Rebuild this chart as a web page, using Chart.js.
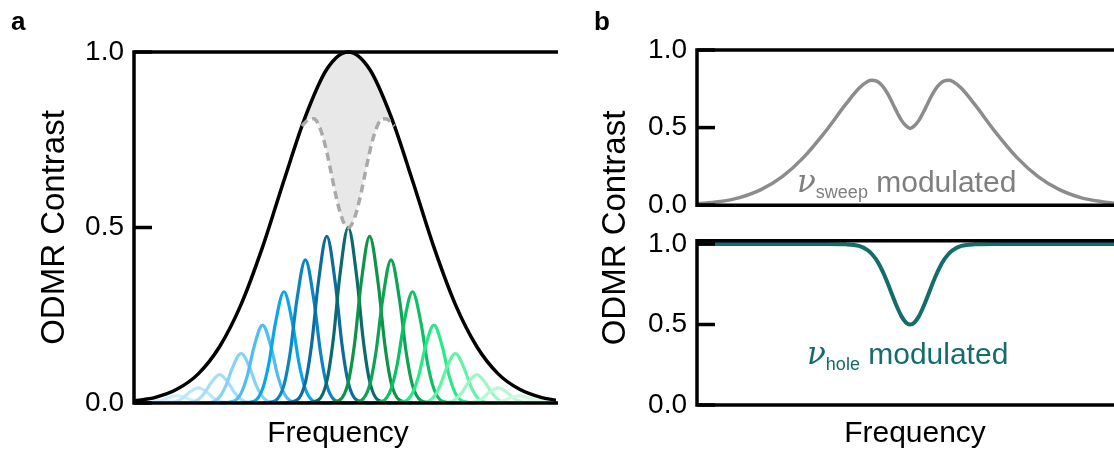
<!DOCTYPE html>
<html>
<head>
<meta charset="utf-8">
<title>ODMR contrast – spectral hole burning</title>
<script src="https://cdn.jsdelivr.net/npm/chart.js@4.4.1/dist/chart.umd.min.js"></script>
<style>
  body { margin: 0; background: #fff; }
  #page { position: relative; width: 1114px; height: 449px; overflow: hidden;
          font-family: "Liberation Sans", Arial, Helvetica, sans-serif; color: #000; }
  canvas { position: absolute; }
  #chartA { left: 0; top: 0; }
  #chartB1 { left: 580px; top: 0; }
  #chartB2 { left: 580px; top: 214px; }
  .panel-label { position: absolute; font-weight: bold; font-size: 26px; line-height: 26px; }
  .ytitle { position: absolute; font-size: 33px; line-height: 33px; white-space: nowrap;
            transform: translate(-50%, -50%) rotate(-90deg); }
  .xtitle { position: absolute; font-size: 30px; line-height: 30px; white-space: nowrap;
            transform: translateX(-50%); }
  .note { position: absolute; font-size: 30px; line-height: 30px; white-space: nowrap; }
  .note .nu { font-family: "DejaVu Serif", serif; font-style: italic; font-size: 31px; line-height: 0; }
  .note sub { font-size: 18px; vertical-align: -6px; line-height: 0; }
</style>
</head>
<body>
<div id="page">
  <canvas id="chartA" width="570" height="449"></canvas>
  <canvas id="chartB1" width="534" height="232"></canvas>
  <canvas id="chartB2" width="534" height="235"></canvas>

  <div class="panel-label" style="left:11px; top:8px;">a</div>
  <div class="panel-label" style="left:594px; top:8px;">b</div>
  <div class="ytitle" style="left:613px; top:228px;">ODMR Contrast</div>
  <div class="xtitle" style="left:338px; top:417px;">Frequency</div>
  <div class="xtitle" style="left:915px; top:417px;">Frequency</div>

  <div class="note" style="left:797px; top:167px; color:#7f7f7f;"><span class="nu">ν</span><sub>sweep</sub> modulated</div>
  <div class="note" style="left:807px; top:339px; color:#146c6c;"><span class="nu">ν</span><sub>hole</sub> modulated</div>
</div>

<script>
// ---- values ----
const yTicks = [0, 0.5, 1.0];

// panel a: inhomogeneous envelope
const freqA = [0, 0.05, 0.10, 0.15, 0.20, 0.25, 0.30, 0.35, 0.40, 0.45, 0.50,
               0.55, 0.60, 0.65, 0.70, 0.75, 0.80, 0.85, 0.90, 0.95, 0.985];
const envelopeA = [0.006, 0.016, 0.039, 0.083, 0.161, 0.281, 0.444, 0.634, 0.816, 0.951, 1.000,
                   0.951, 0.816, 0.634, 0.444, 0.281, 0.161, 0.083, 0.039, 0.016, 0.008];

// panel a: burnt hole (shaded between envelope and dashed line)
const holeFreqA = [0.392, 0.40, 0.41, 0.42, 0.43, 0.44, 0.45, 0.46, 0.47, 0.48, 0.49, 0.50,
                   0.51, 0.52, 0.53, 0.54, 0.55, 0.56, 0.57, 0.58, 0.59, 0.60, 0.608];
const holeTopA = [0.789, 0.816, 0.848, 0.878, 0.905, 0.930, 0.951, 0.968, 0.982, 0.992, 0.998, 1.000,
                  0.998, 0.992, 0.982, 0.968, 0.951, 0.930, 0.905, 0.878, 0.848, 0.816, 0.789];
const dashedA = [0.789, 0.800, 0.809, 0.810, 0.795, 0.762, 0.715, 0.657, 0.598, 0.548, 0.513, 0.500,
                 0.513, 0.548, 0.598, 0.657, 0.715, 0.762, 0.795, 0.810, 0.809, 0.800, 0.789];

// panel a: narrow sub-ensembles, left to right
const peakCenters = [0.05, 0.10, 0.15, 0.20, 0.25, 0.30, 0.35, 0.40, 0.45, 0.50,
                     0.55, 0.60, 0.65, 0.70, 0.75, 0.80, 0.85, 0.90, 0.95];
const peakOffsets = [-0.1, -0.07, -0.05, -0.035, -0.02, 0, 0.02, 0.035, 0.05, 0.07, 0.1];
const peakValues = [
  [0, 0,     0.001, 0.003, 0.006, 0.008, 0.006, 0.003, 0.001, 0,     0],
  [0, 0,     0.003, 0.008, 0.015, 0.021, 0.015, 0.008, 0.003, 0,     0],
  [0, 0.001, 0.005, 0.015, 0.031, 0.043, 0.031, 0.015, 0.005, 0.001, 0],
  [0, 0.001, 0.010, 0.029, 0.058, 0.081, 0.058, 0.029, 0.010, 0.001, 0],
  [0, 0.002, 0.018, 0.051, 0.101, 0.141, 0.101, 0.051, 0.018, 0.002, 0],
  [0, 0.004, 0.028, 0.080, 0.159, 0.222, 0.159, 0.080, 0.028, 0.004, 0],
  [0, 0.005, 0.040, 0.114, 0.227, 0.317, 0.227, 0.114, 0.040, 0.005, 0],
  [0, 0.007, 0.051, 0.147, 0.292, 0.408, 0.292, 0.147, 0.051, 0.007, 0],
  [0, 0.008, 0.059, 0.171, 0.340, 0.475, 0.340, 0.171, 0.059, 0.008, 0],
  [0, 0.008, 0.062, 0.180, 0.358, 0.500, 0.358, 0.180, 0.062, 0.008, 0],
  [0, 0.008, 0.059, 0.171, 0.340, 0.475, 0.340, 0.171, 0.059, 0.008, 0],
  [0, 0.007, 0.051, 0.147, 0.292, 0.408, 0.292, 0.147, 0.051, 0.007, 0],
  [0, 0.005, 0.040, 0.114, 0.227, 0.317, 0.227, 0.114, 0.040, 0.005, 0],
  [0, 0.004, 0.028, 0.080, 0.159, 0.222, 0.159, 0.080, 0.028, 0.004, 0],
  [0, 0.002, 0.018, 0.051, 0.101, 0.141, 0.101, 0.051, 0.018, 0.002, 0],
  [0, 0.001, 0.010, 0.029, 0.058, 0.081, 0.058, 0.029, 0.010, 0.001, 0],
  [0, 0.001, 0.005, 0.015, 0.031, 0.043, 0.031, 0.015, 0.005, 0.001, 0],
  [0, 0,     0.003, 0.008, 0.015, 0.021, 0.015, 0.008, 0.003, 0,     0],
  [0, 0,     0.001, 0.003, 0.006, 0.008, 0.006, 0.003, 0.001, 0,     0]
];
const peakColors = ['#dcf3fd', '#cdeefc', '#bce7fb', '#a6def9', '#86d1f6', '#4fbdf1', '#0ca5eb',
                    '#0b84c3', '#0d6c9e', '#0b6a6c', '#0e9448', '#0ea255', '#0cc163', '#2be88b',
                    '#62f2a8', '#9cf6c6', '#b9f8d6', '#ccfae1', '#dbfbea'];

// panel b, top: sweep-modulated spectrum
const freqB1 = [0, 0.05, 0.10, 0.15, 0.20, 0.25, 0.30, 0.35, 0.38, 0.40,
                0.41, 0.42, 0.43, 0.44, 0.45, 0.46, 0.47, 0.48, 0.49, 0.50,
                0.51, 0.52, 0.53, 0.54, 0.55, 0.56, 0.57, 0.58, 0.59, 0.60,
                0.62, 0.65, 0.70, 0.75, 0.80, 0.85, 0.90, 0.95, 0.978];
const sweepB = [0.009, 0.022, 0.049, 0.100, 0.184, 0.308, 0.471, 0.654, 0.753, 0.797,
                0.805, 0.801, 0.783, 0.750, 0.704, 0.649, 0.594, 0.545, 0.512, 0.495,
                0.512, 0.545, 0.594, 0.649, 0.704, 0.750, 0.783, 0.801, 0.805, 0.797,
                0.753, 0.654, 0.471, 0.308, 0.184, 0.100, 0.049, 0.022, 0.012];

// panel b, bottom: hole-modulated spectrum
const freqB2 = [0, 0.20, 0.30, 0.35, 0.38, 0.40, 0.41, 0.42, 0.43, 0.44, 0.45, 0.46, 0.47, 0.48, 0.49, 0.50,
                0.51, 0.52, 0.53, 0.54, 0.55, 0.56, 0.57, 0.58, 0.59, 0.60, 0.62, 0.65, 0.70, 0.80, 0.978];
const holeB = [1, 1, 1, 0.998, 0.988, 0.962, 0.938, 0.904, 0.859, 0.803, 0.738, 0.669, 0.604, 0.549, 0.513, 0.500,
               0.513, 0.549, 0.604, 0.669, 0.738, 0.803, 0.859, 0.904, 0.938, 0.962, 0.988, 0.998, 1, 1, 1];

// ---- helpers ----
const FONT = '"Liberation Sans", Arial, Helvetica, sans-serif';
const toPoints = (xs, ys) => xs.map((x, i) => ({ x, y: ys[i] }));

function line(data, color, extra = {}) {
    return Object.assign({
        data,
        borderColor: color,
        borderWidth: 3.5,
        pointRadius: 0,
        cubicInterpolationMode: 'monotone',
        fill: false,
        clip: { left: 0, top: 8, right: 0, bottom: 8 }
    }, extra);
}

// left/top/bottom spines + inward y ticks, drawn over the data
const framePlugin = {
    id: 'frame',
    afterDatasetsDraw(chart, args, opts) {
        const { ctx, chartArea: { left, top, right, bottom }, scales: { y } } = chart;
        ctx.save();
        ctx.strokeStyle = '#000';
        ctx.lineWidth = opts.width || 3.5;
        ctx.lineJoin = 'miter';
        ctx.beginPath();
        ctx.moveTo(right + 2, top);
        ctx.lineTo(left, top);
        ctx.lineTo(left, bottom);
        ctx.lineTo(right + 2, bottom);
        ctx.stroke();
        y.ticks.forEach(t => {
            const py = y.getPixelForValue(t.value);
            ctx.beginPath();
            ctx.moveTo(left, py);
            ctx.lineTo(left + (opts.tickLen || 18), py);
            ctx.stroke();
        });
        ctx.restore();
    }
};

function makeOptions({ xMax, yMax, yWidth, xHeight, yTitle, padding }) {
    return {
        responsive: false,
        animation: false,
        devicePixelRatio: 1,
        layout: { padding },
        plugins: {
            legend: { display: false },
            tooltip: { enabled: false },
            frame: { tickLen: 18, width: 3.5 }
        },
        scales: {
            x: {
                type: 'linear',
                min: 0,
                max: xMax,
                display: xHeight > 0,
                ticks: { display: false },
                grid: { display: false, drawTicks: false },
                border: { display: false },
                afterFit(s) { s.height = xHeight; }
            },
            y: {
                min: 0,
                max: yMax,
                afterBuildTicks(s) { s.ticks = yTicks.map(v => ({ value: v })); },
                ticks: {
                    callback: v => v.toFixed(1),
                    color: '#000',
                    font: { family: FONT, size: 28 },
                    padding: 10
                },
                grid: { display: false, drawTicks: false },
                border: { display: false },
                title: {
                    display: !!yTitle,
                    text: yTitle || '',
                    color: '#000',
                    font: { family: FONT, size: 33 },
                    padding: { top: 35, bottom: 0 }
                },
                afterFit(s) { s.width = yWidth; }
            }
        }
    };
}

// ---- panel a ----
const peakSets = peakCenters.map((c, i) => line(
    toPoints(peakOffsets.map(o => +(c + o).toFixed(4)), peakValues[i]),
    peakColors[i],
    { borderWidth: 3.2, order: 60 - i }
));

new Chart(document.getElementById('chartA'), {
    type: 'line',
    data: {
        datasets: [
            line(toPoints(holeFreqA, holeTopA), 'rgba(0,0,0,0)', {
                borderWidth: 0, fill: '+1', backgroundColor: '#e8e8e8', order: 100
            }),
            line(toPoints(holeFreqA, dashedA), '#a9a9a9', { borderDash: [8, 5], order: 10 }),
            line(toPoints(freqA, envelopeA), '#000', { order: 20 }),
            ...peakSets
        ]
    },
    options: makeOptions({
        xMax: 0.985, yMax: 1, yWidth: 134, xHeight: 46, yTitle: 'ODMR Contrast',
        padding: { top: 52, right: 14, bottom: 0, left: 0 }
    }),
    plugins: [framePlugin]
});

// ---- panel b ----
new Chart(document.getElementById('chartB1'), {
    type: 'line',
    data: { datasets: [line(toPoints(freqB1, sweepB), '#8c8c8c')] },
    options: makeOptions({
        xMax: 0.978, yMax: 1, yWidth: 117, xHeight: 0,
        padding: { top: 50, right: 0, bottom: 24, left: 0 }
    }),
    plugins: [framePlugin]
});

new Chart(document.getElementById('chartB2'), {
    type: 'line',
    data: { datasets: [line(toPoints(freqB2, holeB), '#146c6c', { borderWidth: 4 })] },
    options: makeOptions({
        xMax: 0.978, yMax: 1.02, yWidth: 117, xHeight: 44,
        padding: { top: 26, right: 0, bottom: 0, left: 0 }
    }),
    plugins: [framePlugin]
});
</script>
</body>
</html>
